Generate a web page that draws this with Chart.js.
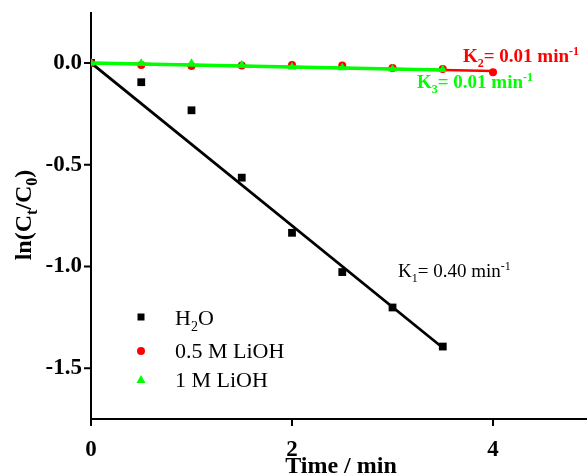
<!DOCTYPE html>
<html><head><meta charset="utf-8">
<script src="https://cdn.jsdelivr.net/npm/chart.js@4/dist/chart.umd.min.js"></script>
<style>html,body{margin:0;padding:0;background:#fff;overflow:hidden}</style>
</head><body>
<canvas id="c" width="587" height="475"></canvas>
<script>
// ---- data ----
const timesH2O = [0, 0.5, 1, 1.5, 2, 2.5, 3, 3.5];
const valuesH2O = [0, -0.095, -0.233, -0.564, -0.835, -1.028, -1.202, -1.394];
const timesLiOH05 = [0, 0.5, 1, 1.5, 2, 2.5, 3, 3.5, 4];
const valuesLiOH05 = [0, -0.010, -0.015, -0.013, -0.010, -0.013, -0.025, -0.030, -0.046];
const timesLiOH1 = [0, 0.5, 1, 1.5, 2, 2.5, 3, 3.5];
const valuesLiOH1 = [0, -0.002, -0.002, -0.011, -0.020, -0.024, -0.030, -0.033];
const fitTimesH2O = [0, 3.5];
const fitValuesH2O = [0, -1.4];
const fitTimesLiOH05 = [0, 4];
const fitValuesLiOH05 = [0, -0.04];
const fitTimesLiOH1 = [0, 3.5];
const fitValuesLiOH1 = [0, -0.035];
const seriesLabels = ['H2O', '0.5 M LiOH', '1 M LiOH'];
const xTitle = 'Time / min';

const FONT = "'Liberation Serif','Times New Roman',serif";
const RED = '#ff0000', GREEN = '#00ff00', BLACK = '#000000';

function pts(xs, ys) { return xs.map((x, i) => ({ x: x, y: ys[i] })); }

function richText(ctx, x, y, parts, size, bold, color, measureOnly) {
  let cx = x;
  ctx.fillStyle = color; ctx.textBaseline = 'alphabetic'; ctx.textAlign = 'left';
  for (const p of parts) {
    const s = (p.sub || p.sup) ? Math.round(size * 0.65) : size;
    ctx.font = (bold ? 'bold ' : '') + s + 'px ' + FONT;
    const dy = p.sub ? size * 0.25 : (p.sup ? -size * 0.38 : 0);
    if (!measureOnly) ctx.fillText(p.t, cx, y + dy);
    cx += ctx.measureText(p.t).width;
  }
  return cx - x;
}

const decorPlugin = {
  id: 'decor',
  beforeDatasetsDraw(chart) {
    const { ctx, chartArea: a, scales: { x, y } } = chart;
    ctx.save();
    ctx.strokeStyle = BLACK; ctx.lineWidth = 2; ctx.lineCap = 'butt';
    ctx.beginPath();
    ctx.moveTo(a.left, a.top); ctx.lineTo(a.left, a.bottom + 1);
    ctx.moveTo(a.left - 1, a.bottom); ctx.lineTo(a.right, a.bottom);
    ctx.stroke();
    ctx.beginPath();
    for (const t of y.ticks) {
      const py = y.getPixelForValue(t.value);
      const major = Math.round(t.value * 4) % 2 === 0;
      ctx.moveTo(a.left, py); ctx.lineTo(a.left - (major ? 7 : 4), py);
    }
    for (const t of x.ticks) {
      if (Math.abs(t.value - Math.round(t.value)) > 1e-6) continue;
      const px = x.getPixelForValue(t.value);
      const major = Math.round(t.value) % 2 === 0;
      ctx.moveTo(px, a.bottom); ctx.lineTo(px, a.bottom + (major ? 7 : 4));
    }
    ctx.stroke();
    ctx.restore();
  },
  afterDraw(chart) {
    const { ctx } = chart;
    ctx.save();
    // annotations
    richText(ctx, 463, 62, [{ t: 'K' }, { t: '2', sub: true }, { t: '= 0.01 min' }, { t: '-1', sup: true }], 19, true, RED);
    richText(ctx, 417, 88, [{ t: 'K' }, { t: '3', sub: true }, { t: '= 0.01 min' }, { t: '-1', sup: true }], 19, true, GREEN);
    richText(ctx, 398, 277, [{ t: 'K' }, { t: '1', sub: true }, { t: '= 0.40 min' }, { t: '-1', sup: true }], 19, false, BLACK);

    // legend
    ctx.fillStyle = BLACK;
    ctx.fillRect(141 - 3.5, 317 - 3.5, 7, 7);
    ctx.fillStyle = RED;
    ctx.beginPath(); ctx.arc(141, 351, 4, 0, Math.PI * 2); ctx.fill();
    ctx.fillStyle = GREEN;
    ctx.beginPath(); ctx.moveTo(141, 375); ctx.lineTo(145.5, 383); ctx.lineTo(136.5, 383); ctx.closePath(); ctx.fill();
    richText(ctx, 175, 325, [{ t: 'H' }, { t: '2', sub: true }, { t: 'O' }], 22, false, BLACK);
    richText(ctx, 175, 358, [{ t: seriesLabels[1] }], 22, false, BLACK);
    richText(ctx, 175, 387, [{ t: seriesLabels[2] }], 22, false, BLACK);

    // x title
    ctx.font = 'bold 24px ' + FONT;
    ctx.fillStyle = BLACK; ctx.textAlign = 'center'; ctx.textBaseline = 'alphabetic';
    ctx.fillText(xTitle, 341, 473);

    // y title
    const yParts = [{ t: 'ln(C' }, { t: 't', sub: true }, { t: '/C' }, { t: '0', sub: true }, { t: ')' }];
    const w = richText(ctx, 0, 0, yParts, 24, true, BLACK, true);
    ctx.translate(31, 215);
    ctx.rotate(-Math.PI / 2);
    richText(ctx, -w / 2, 0, yParts, 24, true, BLACK);
    ctx.restore();
  }
};

const tickFont = { family: FONT, size: 23, weight: 'bold' };

new Chart(document.getElementById('c'), {
  type: 'scatter',
  data: {
    datasets: [
      { label: seriesLabels[2], data: pts(timesLiOH1, valuesLiOH1), pointStyle: 'triangle', pointRadius: 5, backgroundColor: GREEN, borderColor: GREEN, borderWidth: 0, showLine: false, order: 0 },
      { label: seriesLabels[2] + ' fit', data: pts(fitTimesLiOH1, fitValuesLiOH1), showLine: true, borderColor: GREEN, borderWidth: 3.5, pointRadius: 0, order: 1 },
      { label: seriesLabels[1], data: pts(timesLiOH05, valuesLiOH05), pointStyle: 'circle', pointRadius: 4, backgroundColor: RED, borderColor: RED, borderWidth: 0, showLine: false, order: 2 },
      { label: seriesLabels[1] + ' fit', data: pts(fitTimesLiOH05, fitValuesLiOH05), showLine: true, borderColor: RED, borderWidth: 2.5, pointRadius: 0, order: 3 },
      { label: seriesLabels[0], data: pts(timesH2O, valuesH2O), pointStyle: 'rect', pointRadius: 5.5, backgroundColor: BLACK, borderColor: BLACK, borderWidth: 0, showLine: false, order: 4 },
      { label: seriesLabels[0] + ' fit', data: pts(fitTimesH2O, fitValuesH2O), showLine: true, borderColor: BLACK, borderWidth: 2.8, pointRadius: 0, order: 5 }
    ]
  },
  options: {
    responsive: false, animation: false, devicePixelRatio: 1, events: [],
    layout: { autoPadding: false, padding: { top: 12, left: 0, right: 0, bottom: 0 } },
    plugins: { legend: { display: false }, tooltip: { enabled: false }, title: { display: false } },
    scales: {
      x: {
        type: 'linear', min: 0, max: 4.935,
        afterFit(s) { s.height = 56; s.paddingLeft = 0; s.paddingRight = 0; s.paddingTop = 0; s.paddingBottom = 0; },
        grid: { display: false, drawTicks: false },
        border: { display: false },
        ticks: {
          stepSize: 1, autoSkip: false, includeBounds: false, maxRotation: 0, padding: 17, color: BLACK, font: tickFont,
          callback(v) { const r = Math.round(v); return (Math.abs(v - r) < 1e-6 && r % 2 === 0 && r <= 4) ? String(r) : null; }
        }
      },
      y: {
        type: 'linear', min: -1.75, max: 0.25,
        afterFit(s) { s.width = 91; s.paddingLeft = 0; s.paddingRight = 0; s.paddingTop = 0; s.paddingBottom = 0; },
        grid: { display: false, drawTicks: false },
        border: { display: false },
        ticks: {
          stepSize: 0.25, autoSkip: false, includeBounds: false, padding: 9, color: BLACK, font: tickFont,
          callback(v) { const q = Math.round(v * 4); return (q % 2 === 0) ? (q / 4).toFixed(1) : null; }
        }
      }
    }
  },
  plugins: [decorPlugin]
});
</script>
</body></html>
